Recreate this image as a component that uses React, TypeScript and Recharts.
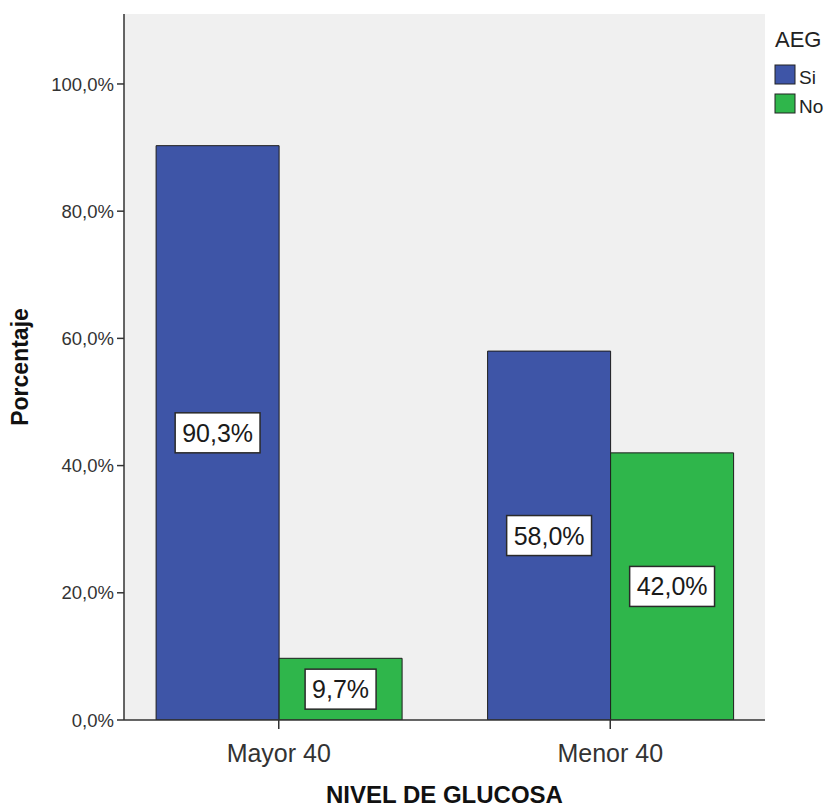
import React from 'react';
import { BarChart, Bar, XAxis, YAxis, CartesianGrid, Legend, LabelList } from 'recharts';

const categories = ['Mayor 40', 'Menor 40'];
const siValues = [90.3, 58.0];
const noValues = [9.7, 42.0];
const seriesNames = ['Si', 'No'];
const seriesColors = ['#3e55a7', '#2fb64b'];
const yTicks = [0, 20, 40, 60, 80, 100];
const legendTitle = 'AEG';
const xTitle = 'NIVEL DE GLUCOSA';
const yTitle = 'Porcentaje';

const data = categories.map((c, i) => ({ name: c, Si: siValues[i], No: noValues[i] }));

const FONT = 'Arial, "Liberation Sans", sans-serif';
const fmt = (v: number) => v.toFixed(1).replace('.', ',') + '%';

const charW = (ch: string) => {
  if (ch === ',') return 0.278;
  if (ch === '%') return 0.889;
  return 0.556;
};

const renderLabel = (props: any) => {
  const { x, y, width, height, value } = props;
  const fs = 25;
  const txt = fmt(Number(value));
  const tw = txt.split('').reduce((s, c) => s + charW(c), 0) * fs;
  const bw = tw + 14;
  const bh = 40;
  const cx = x + width / 2;
  const cy = y + height / 2;
  return (
    <g>
      <rect x={cx - bw / 2} y={cy - bh / 2} width={bw} height={bh} fill="#ffffff" stroke="#2a2a2a" strokeWidth={1.5} />
      <text x={cx} y={cy + fs * 0.36} textAnchor="middle" fontSize={fs} fontFamily={FONT} fill="#1a1a1a">
        {txt}
      </text>
    </g>
  );
};

const renderLegend = () => (
  <svg width={62} height={110} style={{ overflow: 'visible' }}>
    <text x={10} y={33} fontSize={22} fontFamily={FONT} fill="#222">{legendTitle}</text>
    {seriesNames.map((n, i) => (
      <g key={n}>
        <rect x={10} y={51 + i * 29} width={20} height={19} fill={seriesColors[i]} stroke="#222" strokeWidth={1} />
        <text x={34} y={70 + i * 29} fontSize={19} fontFamily={FONT} fill="#222">{n}</text>
      </g>
    ))}
  </svg>
);

const YLabel = (props: any) => {
  const { viewBox } = props;
  const cy = viewBox.y + viewBox.height / 2;
  const x = 28;
  return (
    <text x={x} y={cy} transform={`rotate(-90, ${x}, ${cy})`} textAnchor="middle" fontSize={23} fontWeight="bold" fontFamily={FONT} fill="#111">
      {yTitle}
    </text>
  );
};

const XLabel = (props: any) => {
  const { viewBox } = props;
  const cx = viewBox.x + viewBox.width / 2;
  return (
    <text x={cx} y={803} textAnchor="middle" fontSize={24} fontWeight="bold" fontFamily={FONT} fill="#111">
      {xTitle}
    </text>
  );
};

export default function App() {
  return (
    <div style={{ position: 'absolute', left: 0, top: 0, width: 827, height: 810, background: '#fff' }}>
      <BarChart
        width={827}
        height={810}
        data={data}
        margin={{ top: 14, right: 0, bottom: 0, left: 0 }}
        barCategoryGap="13%"
        barGap={0}
      >
        <CartesianGrid fill="#f0f0f0" horizontal={false} vertical={false} />
        <XAxis
          dataKey="name"
          height={90}
          padding={{ left: -11, right: -11 }}
          axisLine={{ stroke: '#333', strokeWidth: 1.5 }}
          tickLine={{ stroke: '#333', strokeWidth: 1.5 }}
          tickSize={9}
          tickMargin={15}
          tick={{ fontSize: 25, fill: '#333', fontFamily: FONT }}
          label={<XLabel />}
        />
        <XAxis
          xAxisId="top"
          dataKey="name"
          orientation="top"
          height={0}
          tick={false}
          tickLine={false}
          axisLine={{ stroke: '#333', strokeWidth: 1.5 }}
        />
        <YAxis
          width={124}
          domain={[0, 111]}
          ticks={yTicks}
          allowDataOverflow
          tickFormatter={(v: number) => fmt(v)}
          axisLine={{ stroke: '#333', strokeWidth: 1.5 }}
          tickLine={{ stroke: '#333', strokeWidth: 1.5 }}
          tickSize={7}
          tickMargin={3}
          tick={{ fontSize: 18.5, fill: '#333', fontFamily: FONT }}
          label={<YLabel />}
        />
        <YAxis
          yAxisId="right"
          orientation="right"
          width={0}
          domain={[0, 111]}
          tick={false}
          tickLine={false}
          axisLine={{ stroke: '#333', strokeWidth: 1.5 }}
        />
        <Legend
          layout="vertical"
          align="right"
          verticalAlign="top"
          wrapperStyle={{ width: 62, height: 110 }}
          content={renderLegend}
        />
        {seriesNames.map((n, i) => (
          <Bar key={n} dataKey={n} fill={seriesColors[i]} stroke="#1e1e1e" strokeWidth={1} isAnimationActive={false}>
            <LabelList dataKey={n} content={renderLabel} />
          </Bar>
        ))}
      </BarChart>
    </div>
  );
}
